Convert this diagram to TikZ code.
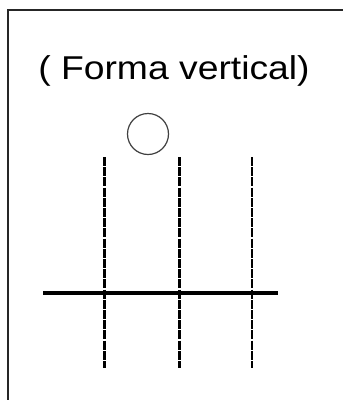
\documentclass[tikz,border=0pt]{standalone}
\usepackage{fontspec}
\setmainfont{Liberation Sans}
\begin{document}
\begin{tikzpicture}[x=1pt,y=-1pt,
  frameline/.style={line width=2pt,black!85},
  guide/.style={line width=3pt,dash pattern=on 9pt off 1.2pt},
  guidethin/.style={line width=2pt,dash pattern=on 9pt off 1.2pt},
  base/.style={line width=4pt}]
\useasboundingbox (0,0) rectangle (343,400);
\fill[white] (0,0) rectangle (343,400);
\draw[frameline] (8,400) -- (8,10) -- (343,10);
\node[font=\fontsize{33}{36}\selectfont, anchor=base, inner sep=0pt, xscale=1.13] (title) at (174,79) {( Forma vertical)};
\node[draw, circle, line width=1.2pt, black!75, minimum size=41pt, inner sep=0pt] (ball) at (148,134) {};
\coordinate (a1) at (104,157); \coordinate (a2) at (104,368);
\coordinate (b1) at (179,157); \coordinate (b2) at (179,368);
\coordinate (c1) at (252,157); \coordinate (c2) at (252,368);
\coordinate (h1) at (43,293); \coordinate (h2) at (278,293);
\draw[guide] (a1) -- (a2);
\draw[guide] (b1) -- (b2);
\draw[guidethin] (c1) -- (c2);
\draw[base] (h1) -- (h2);
\end{tikzpicture}
\end{document}
